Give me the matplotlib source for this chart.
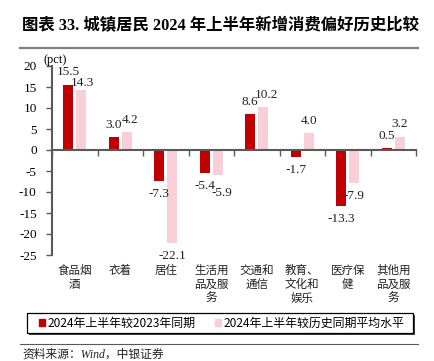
import matplotlib.pyplot as plt
import numpy as np
from matplotlib.patches import Rectangle
from matplotlib.lines import Line2D

categories = ['食品烟\n酒', '衣着', '居住', '生活用\n品及服\n务', '交通和\n通信',
              '教育、\n文化和\n娱乐', '医疗保\n健', '其他用\n品及服\n务']
vs_2023 = [15.5, 3.0, -7.3, -5.4, 8.6, -1.7, -13.3, 0.5]
vs_hist = [14.3, 4.2, -22.1, -5.9, 10.2, 4.0, -7.9, 3.2]
series_names = ['2024年上半年较2023年同期', '2024年上半年较历史同期平均水平']
y_ticks = [20, 15, 10, 5, 0, -5, -10, -15, -20, -25]

DARK = '#C00000'
PINK = '#F8CFD6'
AXIS = '#595959'
CJK = ['Noto Sans CJK SC', 'DejaVu Sans']
MIX = ['Liberation Serif', 'Noto Sans CJK SC']

# label nudges (points) for labels that the original moved aside
nudge = {(0, 0): (0, 0.5), (1, 0): (1, -4.0), (1, 1): (2.5, 0),
         (1, 3): (3, -3.5), (1, 4): (2.5, 0)}

fig = plt.figure(figsize=(4.34, 3.61), dpi=100)
W, H = 434, 361


def fx(px):
    return px / W


def fy(py):
    return 1 - py / H


ax = fig.add_axes([fx(52), fy(255), fx(416) - fx(52), fy(66) - fy(255)])

x = np.arange(len(categories))
off = 0.143
bw = 0.22
ax.bar(x - off, vs_2023, bw, color=DARK, zorder=2)
ax.bar(x + off, vs_hist, bw, color=PINK, zorder=2)

for s, (xs, vals) in enumerate(((x - off, vs_2023), (x + off, vs_hist))):
    for i, (xi, v) in enumerate(zip(xs, vals)):
        dy = 8.7 if v >= 0 else -9.3
        ndx, ndy = nudge.get((s, i), (0, 0))
        ax.annotate(f'{v:.1f}', (xi, v), xytext=(ndx, dy + ndy), textcoords='offset points',
                    ha='center', va='center', fontsize=9.5,
                    family='Liberation Serif', color='#222222')

ax.set_xlim(-0.5, len(categories) - 0.5)
ax.set_ylim(-25, 20)
ax.set_yticks(y_ticks)
ax.set_yticklabels([str(t) for t in y_ticks], family='Liberation Serif', fontsize=9.5)
ax.tick_params(axis='y', length=4, width=1, color=AXIS, pad=7)

ax.spines['bottom'].set_position(('data', 0))
for s in ('top', 'right'):
    ax.spines[s].set_visible(False)
for s in ('left', 'bottom'):
    ax.spines[s].set_color(AXIS)
    ax.spines[s].set_linewidth(1.5)
ax.spines['bottom'].set_zorder(3)
ax.set_xticks(np.arange(len(categories) + 1) - 0.5)
ax.set_xticklabels([])
ax.tick_params(axis='x', length=4, width=1, color=AXIS, direction='out')

for i, c in enumerate(categories):
    ax.text(i, -0.045, c, transform=ax.get_xaxis_transform(), ha='center', va='top',
            fontsize=8.3, family=CJK, linespacing=1.12, color='#222222')

fig.text(fx(44), fy(60.5), '(pct)', fontsize=9, family='Liberation Serif',
         va='center', ha='left')

# title and rules
fig.text(fx(22), fy(26), '图表 33. 城镇居民 2024 年上半年新增消费偏好历史比较',
         fontsize=11.8, fontweight='bold', family=MIX, va='center', ha='left')
fig.add_artist(Line2D([fx(20), fx(418)], [fy(47.5), fy(47.5)], color='#7f7f7f', lw=1.6))
fig.add_artist(Line2D([fx(20), fx(418)], [fy(344), fy(344)], color='#595959', lw=0.8))
fig.text(fx(22), fy(355), '资料来源：Wind，中银证券', fontsize=8.5, style='italic',
         family=['Liberation Serif', 'Noto Sans CJK SC'], va='center', ha='left',
         color='#222222')

# legend box
fig.add_artist(Rectangle((fx(29), fy(335)), fx(386), fy(0) - fy(20), transform=fig.transFigure,
                         facecolor='#404040', edgecolor='none', zorder=1))
fig.add_artist(Rectangle((fx(27), fy(333)), fx(386), fy(0) - fy(20), transform=fig.transFigure,
                         facecolor='white', edgecolor='black', lw=0.9, zorder=2))
handles = [Rectangle((0, 0), 1, 1, color=DARK), Rectangle((0, 0), 1, 1, color=PINK)]
leg = fig.legend(handles, series_names, loc='center', bbox_to_anchor=(fx(221.5), fy(323)),
                 ncol=2, frameon=False, prop={'family': CJK, 'size': 8.6},
                 handlelength=0.5, handleheight=0.5, handletextpad=0.25,
                 columnspacing=1.6, borderpad=0)
leg.set_zorder(3)

plt.savefig('out.png', dpi=100)
